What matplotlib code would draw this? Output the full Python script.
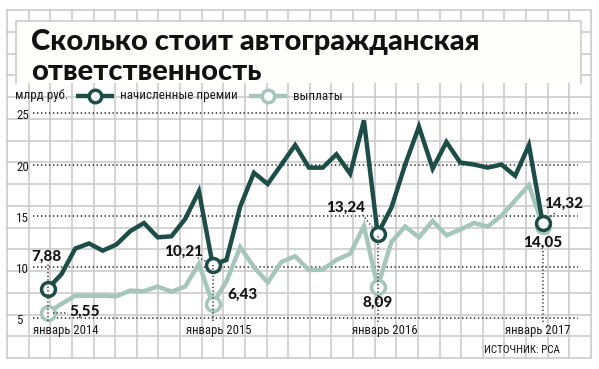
import matplotlib
matplotlib.use('Agg')
import matplotlib.pyplot as plt
from matplotlib import font_manager
from matplotlib.patches import Rectangle
from matplotlib.lines import Line2D

# monthly data, January 2014 .. January 2017, bn rub
premiums = [7.88, 9.3, 11.8, 12.3, 11.6, 12.2, 13.5, 14.3, 12.9, 13.0, 14.7, 17.4,
            10.21, 10.7, 15.9, 19.2, 18.1, 20.0, 21.9, 19.7, 19.7, 21.0, 19.1, 24.3,
            13.24, 15.8, 20.0, 23.7, 19.6, 22.2, 20.2, 20.0, 19.7, 20.0, 18.9, 21.9,
            14.32]
payouts = [5.55, 6.4, 7.2, 7.2, 7.2, 7.15, 7.7, 7.65, 8.1, 7.6, 8.1, 10.3,
           6.43, 8.6, 11.95, 10.0, 8.5, 10.5, 11.05, 9.7, 9.75, 10.7, 11.3, 14.0,
           8.09, 12.45, 13.95, 12.9, 14.5, 13.1, 13.65, 14.3, 13.95, 15.0, 16.5, 18.0,
           14.05]
months = list(range(len(premiums)))
jan_idx = [0, 12, 24, 36]
jan_labels = ['январь 2014', 'январь 2015', 'январь 2016', 'январь 2017']
y_ticks = [5, 10, 15, 20, 25]

title = ['Сколько стоит автогражданская', 'ответственность']
legend_unit = 'млрд руб.'
name_prem = 'начисленные премии'
name_pay = 'выплаты'
source = 'ИСТОЧНИК: РСА'

DARK = '#1e4d47'
LIGHT = '#a6c5bb'
GRID = '#c8c8c8'
DOT = '#4a4a4a'
TXT = '#1a1a1a'

# pick fonts that are really there
fonts = font_manager.fontManager.ttflist
names = {f.name for f in fonts}
heavy = None
for fam in ['Lato', 'Roboto', 'Inter', 'Noto Sans', 'Open Sans']:
    if any(f.name == fam and f.weight in (800, 900, 'heavy', 'black', 'extra bold') for f in fonts):
        heavy = fam
        break
if heavy is None:
    heavy = 'DejaVu Sans'
narrow = next((n for n in ['Liberation Sans Narrow', 'Roboto Condensed', 'Open Sans Condensed']
               if n in names), None)
small = dict(family=narrow) if narrow else dict(family='Roboto' if 'Roboto' in names else 'DejaVu Sans')

W, H = 599, 369
fig = plt.figure(figsize=(W / 100, H / 100), dpi=100)
fig.patch.set_facecolor('white')

# graph paper background, pixel coords
bg = fig.add_axes([0, 0, 1, 1])
bg.set_xlim(0, W)
bg.set_ylim(H, 0)
bg.axis('off')
gx0, gx1, gy0, gy1 = 7, 591, 10, 358
for i in range(28):
    x = gx0 + i * (gx1 - gx0) / 27
    bg.plot([x, x], [gy0, gy1], color=GRID, lw=1.1)
for i in range(17):
    y = gy0 + i * (gy1 - gy0) / 16
    bg.plot([gx0, gx1], [y, y], color=GRID, lw=1.1)

# title box
bg.add_patch(Rectangle((16, 21), 565, 62, facecolor='#fdfdfb', edgecolor='none', zorder=3))
bg.plot([16, 16, 581, 581], [83, 21, 21, 83], color=GRID, lw=1.1, zorder=4)
t1 = bg.text(31, 50, title[0], fontsize=20, family=heavy, weight='black',
             color='#111111', va='baseline', zorder=5)
t2 = bg.text(31, 80, title[1], fontsize=20, family=heavy, weight='black',
             color='#111111', va='baseline', zorder=5)
r = fig.canvas.get_renderer()
fs = 20 * 449 / t1.get_window_extent(r).width
t1.set_fontsize(fs)
t2.set_fontsize(fs)

# legend row
ly = 96
bg.text(15, ly, legend_unit, fontsize=9.4, color=TXT, va='center', **small)
bg.add_line(Line2D([76, 114], [ly, ly], color=DARK, lw=3.2, solid_capstyle='butt'))
bg.plot([95], [ly], 'o', ms=9, mfc='white', mec=DARK, mew=2.5)
bg.text(120, ly, name_prem, fontsize=9.4, color=TXT, va='center', **small)
bg.add_line(Line2D([249, 287], [ly, ly], color=LIGHT, lw=3.2, solid_capstyle='butt'))
bg.plot([268], [ly], 'o', ms=9, mfc='white', mec=LIGHT, mew=2.5)
bg.text(293, ly, name_pay, fontsize=9.4, color=TXT, va='center', **small)
bg.text(560, 350, source, fontsize=8, color=TXT, va='center', ha='right', **small)

# main chart
ax = fig.add_axes([33 / W, 1 - 338.8 / H, 545 / W, (338.8 - 103.05) / H])
ax.set_xlim(-1.07, 38.57)
ax.set_ylim(3.0, 26.0)
ax.axis('off')
ax.patch.set_alpha(0)

dots = (0, (0.8, 1.4))
for v in y_ticks:
    ax.axhline(v, color=DOT, lw=1.3, ls=dots, zorder=1)
    ax.text(-0.031, v - 0.25, str(v), transform=ax.get_yaxis_transform(),
            fontsize=9.4, color=TXT, ha='left', va='center', **small)

# month labels sit a little off their ticks, as in the original layout
label_shift = [1.33, 0.46, 0.53, -0.37]
for i, lab, s in zip(jan_idx, jan_labels, label_shift):
    ax.text(i + s, 3.8, lab, fontsize=9.2, color=TXT, ha='center', va='center', **small)

ax.plot(months, payouts, color=LIGHT, lw=3.2, zorder=3, solid_joinstyle='miter')
ax.plot(months, premiums, color=DARK, lw=3.2, zorder=4, solid_joinstyle='miter')
ax.plot(jan_idx, [payouts[i] for i in jan_idx], 'o', ms=10, mfc='white', mec=LIGHT,
        mew=2.5, zorder=5, clip_on=False)
ax.plot(jan_idx, [premiums[i] for i in jan_idx], 'o', ms=10, mfc='white', mec=DARK,
        mew=2.5, zorder=6, clip_on=False)


def fmt(v):
    return f'{v:.2f}'.replace('.', ',')


# leaders from labels to the January markers
ax.vlines(0, 4.7, 10.4, color=DOT, lw=1.2, ls=dots, zorder=7)
ax.vlines(12, 4.7, premiums[12], color=DOT, lw=1.2, ls=dots, zorder=7)
ax.vlines(24, 4.6, premiums[24], color=DOT, lw=1.2, ls=dots, zorder=7)
ax.vlines(36, 4.6, 11.6, color=DOT, lw=1.2, ls=dots, zorder=7)
ax.plot([0.4, 1.5], [payouts[0], payouts[0]], color=DOT, lw=1.2, ls=dots, zorder=7)
ax.plot([10.9, 11.6], [10.9, 10.5], color=DOT, lw=1.2, ls=dots, zorder=7)
ax.plot([22.9, 23.6], [15.1, 13.9], color=DOT, lw=1.2, ls=dots, zorder=7)
ax.plot([36.4, 37.0], [14.7, 15.4], color=DOT, lw=1.2, ls=dots, zorder=7)

lab = dict(fontsize=11, family=heavy, weight='black', color='#151515',
           ha='center', va='center', zorder=8)
ax.text(-0.12, 10.98, fmt(premiums[0]), **lab)
ax.text(2.72, 5.62, fmt(payouts[0]), **lab)
ax.text(9.85, 11.47, fmt(premiums[12]), **lab)
ax.text(14.2, 7.27, fmt(payouts[12]), **lab)
ax.text(21.7, 15.75, fmt(premiums[24]), **lab)
ax.text(24.0, 6.5, fmt(payouts[24]), **lab)
ax.text(37.5, 16.15, fmt(premiums[36]), **lab)
ax.text(36.0, 12.35, fmt(payouts[36]), **lab)

fig.savefig('out.png', dpi=100)
